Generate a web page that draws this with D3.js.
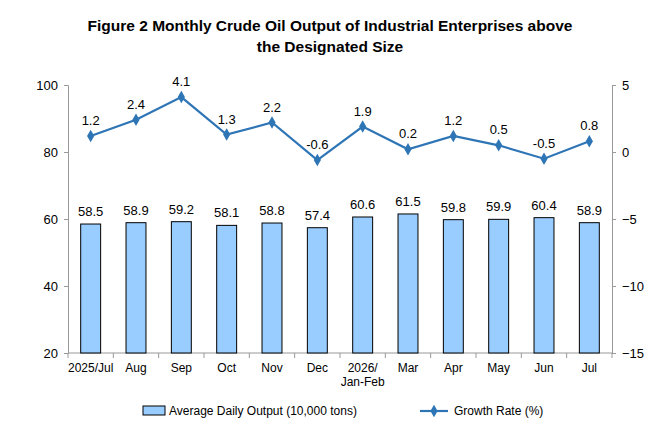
<!DOCTYPE html>
<html><head><meta charset="utf-8">
<script src="https://cdn.jsdelivr.net/npm/d3@7"></script>
<style>body{margin:0;background:#fff;font-family:Arial,"Liberation Sans",sans-serif}</style>
</head><body>
<script>
var months = ["2025/Jul","Aug","Sep","Oct","Nov","Dec","2026/\nJan-Feb","Mar","Apr","May","Jun","Jul"];
var output = [58.5,58.9,59.2,58.1,58.8,57.4,60.6,61.5,59.8,59.9,60.4,58.9];
var growth = [1.2,2.4,4.1,1.3,2.2,-0.6,1.9,0.2,1.2,0.5,-0.5,0.8];
var leftTicks = [20,40,60,80,100];
var rightTicks = [-15,-10,-5,0,5];

var W = 660, H = 440, L = 68, R = 612, T = 85, B = 353;
var svg = d3.select("body").append("svg").attr("width", W).attr("height", H);

var x = d3.scaleBand().domain(months).range([L, R]).paddingInner(0.56).paddingOuter(0.28);
var yl = d3.scaleLinear().domain([20,100]).range([B, T]);
var yr = d3.scaleLinear().domain([-15,5]).range([B, T]);

svg.append("text").attr("x", 330).attr("y", 31).attr("text-anchor","middle")
  .attr("font-weight","bold").attr("font-size",15.5).text("Figure 2 Monthly Crude Oil Output of Industrial Enterprises above");
svg.append("text").attr("x", 330).attr("y", 52).attr("text-anchor","middle")
  .attr("font-weight","bold").attr("font-size",15.5).text("the Designated Size");

// axes
var gl = svg.append("g").attr("transform","translate("+L+",0)")
  .call(d3.axisLeft(yl).tickValues(leftTicks).tickSize(4).tickPadding(6));
var gr = svg.append("g").attr("transform","translate("+R+",0)")
  .call(d3.axisRight(yr).tickValues(rightTicks).tickSize(4).tickPadding(6));
[gl, gr].forEach(function(g){
  g.select(".domain").attr("stroke","#999");
  g.selectAll(".tick line").attr("stroke","#999");
  g.selectAll("text").attr("font-size",13).attr("fill","#000").attr("font-family","Arial,'Liberation Sans',sans-serif");
});

svg.append("line").attr("x1",L).attr("x2",R).attr("y1",B).attr("y2",B).attr("stroke","#999");
d3.range(months.length + 1).forEach(function(i){
  var xx = L + (R - L) * i / months.length;
  svg.append("line").attr("x1",xx).attr("x2",xx).attr("y1",B).attr("y2",B+5).attr("stroke","#999");
});

months.forEach(function(m){
  var parts = m.split("\n");
  var t = svg.append("text").attr("text-anchor","middle").attr("font-size",12)
    .attr("x", x(m) + x.bandwidth()/2).attr("y", B + 19);
  parts.forEach(function(p, i){
    t.append("tspan").attr("x", x(m) + x.bandwidth()/2).attr("dy", i ? 14 : 0).text(p);
  });
});

// bars
svg.selectAll("rect.bar").data(output).enter().append("rect")
  .attr("x", function(d,i){ return x(months[i]); })
  .attr("width", x.bandwidth())
  .attr("y", function(d){ return yl(d); })
  .attr("height", function(d){ return B - yl(d); })
  .attr("fill","#99CCFF").attr("stroke","#000").attr("stroke-width",1);
svg.selectAll("text.bl").data(output).enter().append("text")
  .attr("text-anchor","middle").attr("font-size",13)
  .attr("x", function(d,i){ return x(months[i]) + x.bandwidth()/2; })
  .attr("y", function(d){ return yl(d) - 8; })
  .text(function(d){ return d.toFixed(1); });

// line
var cx = function(d,i){ return x(months[i]) + x.bandwidth()/2; };
svg.append("path").datum(growth)
  .attr("d", d3.line().x(cx).y(function(d){ return yr(d); }))
  .attr("fill","none").attr("stroke","#2E75B6").attr("stroke-width",2.2);
svg.selectAll("path.mk").data(growth).enter().append("path")
  .attr("d", d3.symbol().type(d3.symbolDiamond).size(45))
  .attr("transform", function(d,i){ return "translate("+cx(d,i)+","+yr(d)+")"; })
  .attr("fill","#2E75B6");
svg.selectAll("text.ll").data(growth).enter().append("text")
  .attr("text-anchor","middle").attr("font-size",13)
  .attr("x", cx)
  .attr("y", function(d){ return yr(d) - 11; })
  .text(function(d){ return d.toFixed(1); });

// legend
svg.append("rect").attr("x",143).attr("y",406).attr("width",22).attr("height",9)
  .attr("fill","#99CCFF").attr("stroke","#000");
svg.append("text").attr("x",169).attr("y",415).attr("font-size",12).text("Average Daily Output (10,000 tons)");
svg.append("line").attr("x1",420).attr("x2",448).attr("y1",411).attr("y2",411).attr("stroke","#2E75B6").attr("stroke-width",2.2);
svg.append("path").attr("d", d3.symbol().type(d3.symbolDiamond).size(45)).attr("transform","translate(434,411)").attr("fill","#2E75B6");
svg.append("text").attr("x",454).attr("y",415).attr("font-size",12).text("Growth Rate (%)");
</script>
</body></html>
